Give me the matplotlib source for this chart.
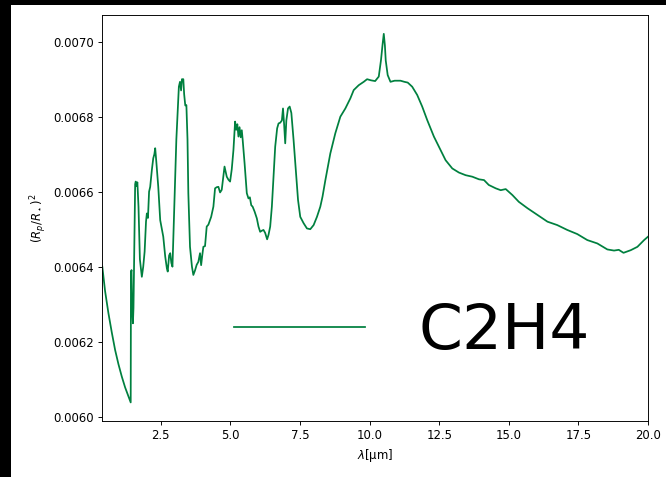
import matplotlib
matplotlib.use("Agg")
import matplotlib.pyplot as plt
from matplotlib.patches import Rectangle

# wavelength (micron) and transit depth (Rp/Rs)^2
wavelength = [
    0.40, 0.50, 0.62, 0.74, 0.86, 0.98, 1.10, 1.22, 1.32, 1.42,
    1.43, 1.45, 1.47, 1.50, 1.52, 1.55, 1.58, 1.60, 1.63, 1.66,
    1.70, 1.75, 1.82, 1.87, 1.92, 1.97, 2.00, 2.04, 2.08, 2.12,
    2.18, 2.23, 2.27, 2.30, 2.34, 2.41, 2.48, 2.54, 2.59, 2.66,
    2.72, 2.75, 2.80, 2.84, 2.88, 2.92, 3.00, 3.06, 3.11, 3.15,
    3.19, 3.23, 3.26, 3.31, 3.34, 3.38, 3.42, 3.46, 3.49, 3.55,
    3.62, 3.67, 3.73, 3.79, 3.85, 3.91, 3.95, 3.99, 4.03, 4.09,
    4.15, 4.21, 4.31, 4.39, 4.45, 4.51, 4.57, 4.63, 4.69, 4.79,
    4.87, 4.93, 4.99, 5.05, 5.11, 5.17, 5.21, 5.25, 5.29, 5.33,
    5.37, 5.41, 5.44, 5.51, 5.59, 5.65, 5.70, 5.75, 5.80, 5.87,
    5.95, 6.01, 6.07, 6.13, 6.19, 6.25, 6.32, 6.37, 6.43, 6.49,
    6.55, 6.61, 6.68, 6.73, 6.79, 6.85, 6.89, 6.93, 6.97, 7.01,
    7.07, 7.13, 7.19, 7.27, 7.36, 7.43, 7.51, 7.63, 7.75, 7.87,
    7.99, 8.11, 8.23, 8.31, 8.41, 8.59, 8.77, 8.95, 9.13, 9.31,
    9.43, 9.61, 9.79, 9.91, 10.05, 10.20, 10.33, 10.41, 10.47, 10.51,
    10.55, 10.58, 10.65, 10.75, 10.90, 11.11, 11.25, 11.37, 11.53, 11.71,
    11.89, 12.07, 12.31, 12.55, 12.73, 12.97, 13.21, 13.45, 13.69, 13.93,
    14.11, 14.28, 14.53, 14.71, 14.89, 15.13, 15.36, 15.67, 16.03, 16.39,
    16.74, 17.10, 17.46, 17.82, 18.18, 18.54, 18.78, 18.95, 19.12, 19.38,
    19.62, 19.86, 20.00,
]
depth = [
    0.006400, 0.006335, 0.006276, 0.006225, 0.006178, 0.006140, 0.006107, 0.006078, 0.006058, 0.006038,
    0.006385, 0.006391, 0.006300, 0.006249, 0.006290, 0.006450, 0.006620, 0.006627, 0.006615, 0.006625,
    0.006560, 0.006420, 0.006373, 0.006400, 0.006440, 0.006520, 0.006542, 0.006530, 0.006600, 0.006613,
    0.006658, 0.006689, 0.006700, 0.006716, 0.006680, 0.006613, 0.006524, 0.006500, 0.006480, 0.006427,
    0.006395, 0.006387, 0.006430, 0.006436, 0.006410, 0.006400, 0.006596, 0.006740, 0.006818, 0.006880,
    0.006893, 0.006870, 0.006900, 0.006900, 0.006860, 0.006830, 0.006831, 0.006740, 0.006596, 0.006453,
    0.006400, 0.006378, 0.006390, 0.006405, 0.006413, 0.006436, 0.006404, 0.006430, 0.006453, 0.006455,
    0.006507, 0.006512, 0.006533, 0.006560, 0.006609, 0.006612, 0.006613, 0.006598, 0.006605, 0.006667,
    0.006640, 0.006632, 0.006627, 0.006660, 0.006711, 0.006787, 0.006765, 0.006780, 0.006747, 0.006772,
    0.006745, 0.006764, 0.006740, 0.006676, 0.006596, 0.006582, 0.006585, 0.006564, 0.006560, 0.006547,
    0.006529, 0.006507, 0.006493, 0.006496, 0.006498, 0.006490, 0.006473, 0.006485, 0.006507, 0.006560,
    0.006640, 0.006720, 0.006769, 0.006782, 0.006784, 0.006790, 0.006822, 0.006780, 0.006729, 0.006790,
    0.006822, 0.006827, 0.006810, 0.006738, 0.006649, 0.006578, 0.006533, 0.006516, 0.006502, 0.006500,
    0.006511, 0.006533, 0.006560, 0.006587, 0.006630, 0.006702, 0.006756, 0.006800, 0.006822, 0.006849,
    0.006871, 0.006884, 0.006893, 0.006900, 0.006897, 0.006895, 0.006907, 0.006951, 0.006995, 0.007021,
    0.006990, 0.006950, 0.006911, 0.006893, 0.006896, 0.006896, 0.006893, 0.006891, 0.006880, 0.006858,
    0.006827, 0.006791, 0.006747, 0.006711, 0.006684, 0.006662, 0.006651, 0.006644, 0.006640, 0.006633,
    0.006631, 0.006618, 0.006609, 0.006604, 0.006607, 0.006591, 0.006573, 0.006556, 0.006538, 0.006520,
    0.006511, 0.006498, 0.006487, 0.006471, 0.006462, 0.006446, 0.006443, 0.006445, 0.006437, 0.006444,
    0.006453, 0.006471, 0.006480,
]

series_label = "C2H4"
line_color = "#00803f"

DPI = 84
fig = plt.figure(figsize=(666 / DPI, 477 / DPI), dpi=DPI)
fig.patch.set_facecolor("black")
fig.add_artist(Rectangle((11 / 666, 0), 1 - 11 / 666, 1 - 5 / 477,
                         transform=fig.transFigure, facecolor="white",
                         edgecolor="none", zorder=-10))

ax = fig.add_axes([102.3 / 666, (477 - 421) / 477, (648 - 102.3) / 666, (421 - 15) / 477])
ax.plot(wavelength, depth, color=line_color, linewidth=1.5, label=series_label)
ax.set_xlim(0.4, 20.0)
ax.set_ylim(0.0059885, 0.0070712)
ax.set_xticks([2.5, 5.0, 7.5, 10.0, 12.5, 15.0, 17.5, 20.0])
ax.set_yticks([0.0060, 0.0062, 0.0064, 0.0066, 0.0068, 0.0070])
ax.set_xlabel("$\\lambda$[μm]")
ax.set_ylabel("$(R_p/R_\\star)^2$")

ax.legend(loc="center", bbox_to_anchor=(0.568, 0.219), fontsize=54,
          handlelength=2.08, handletextpad=0.85, frameon=False)

fig.savefig("out.png", dpi=DPI, facecolor=fig.get_facecolor())
